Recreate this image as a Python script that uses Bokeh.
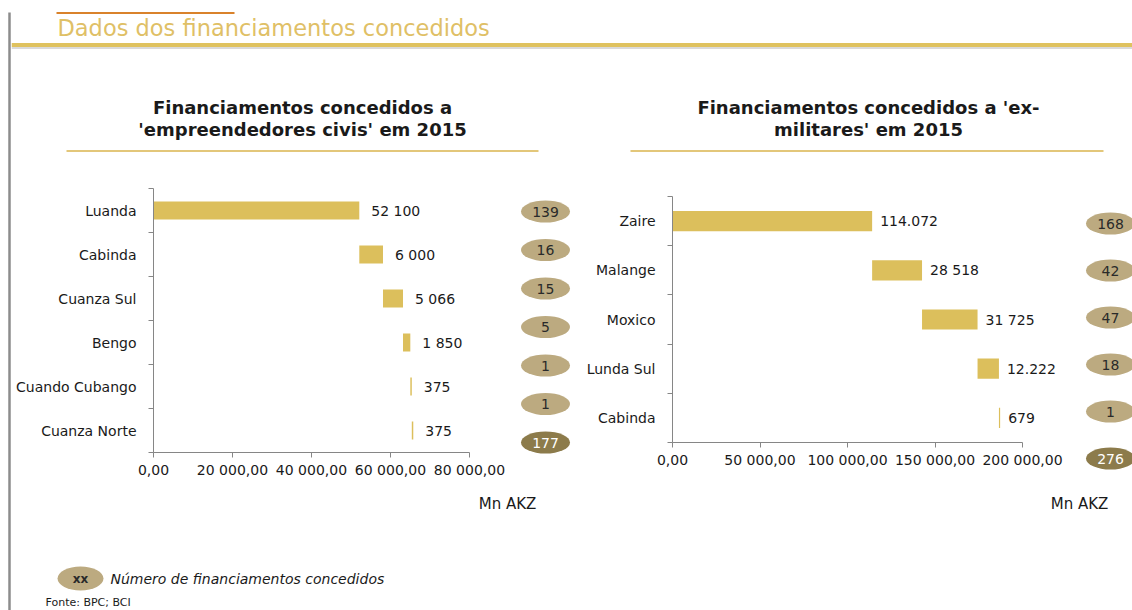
import numpy as np
from bokeh.plotting import figure
from bokeh.models import Range1d, FixedTicker
from bokeh.layouts import row, column
from bokeh.core.properties import value
from bokeh.embed import file_html
from bokeh.resources import INLINE

# ---------------- data ----------------
page_title = "Dados dos financiamentos concedidos"
civ_title = ["Financiamentos concedidos a", "'empreendedores civis' em 2015"]
civ_regions = ["Luanda", "Cabinda", "Cuanza Sul", "Bengo", "Cuando Cubango", "Cuanza Norte"]
civ_values = [52100, 6000, 5066, 1850, 375, 375]
civ_labels = ["52 100", "6 000", "5 066", "1 850", "375", "375"]
civ_counts = [139, 16, 15, 5, 1, 1]
civ_total = 177
civ_ticks = [0, 20000, 40000, 60000, 80000]

mil_title = ["Financiamentos concedidos a 'ex-", "militares' em 2015"]
mil_regions = ["Zaire", "Malange", "Moxico", "Lunda Sul", "Cabinda"]
mil_values = [114072, 28518, 31725, 12222, 679]
mil_labels = ["114.072", "28 518", "31 725", "12.222", "679"]
mil_counts = [168, 42, 47, 18, 1]
mil_total = 276
mil_ticks = [0, 50000, 100000, 150000, 200000]

unit_label = "Mn AKZ"
legend_badge = "xx"
legend_text = "Número de financiamentos concedidos"
source_text = "Fonte: BPC; BCI"

# ---------------- style ----------------
FONT = "DejaVu Sans"
TXT = "#1a1a1a"
GOLD_BAR = "#DCBF5C"
GOLD_TITLE = "#DFC066"
GOLD_LINE = "#DFC25F"
GOLD_UNDER = "#E3C77A"
ORANGE = "#D9822B"
AXIS = "#868686"
BADGE_LIGHT = "#BCAA80"
BADGE_DARK = "#8C7B4B"


def tick_text(v):
    return f"{v:,.2f}".replace(",", " ").replace(".", ",")


def blank(width, height, x0, x1, y_top, y_bottom):
    p = figure(width=width, height=height, x_range=Range1d(x0, x1),
               y_range=Range1d(y_bottom, y_top), output_backend="svg",
               toolbar_location=None, x_axis_type=None, y_axis_type=None,
               min_border=0, outline_line_color=None)
    p.grid.visible = False
    return p


def chart(cats, vals, labels, ticks, width, height, bl, br, bt, bb, axis_px, label_dx):
    n = len(cats)
    ys = [n - i - 0.5 for i in range(n)]
    v = np.array(vals, dtype=float)
    ends = np.cumsum(v)
    starts = ends - v
    frame_w = width - bl - br
    x_end = ticks[-1] * frame_w / axis_px
    p = figure(width=width, height=height, x_range=Range1d(ticks[0], x_end),
               y_range=Range1d(0, n), output_backend="svg", toolbar_location=None,
               min_border_left=bl, min_border_right=br, min_border_top=bt,
               min_border_bottom=bb, outline_line_color=None)
    p.grid.visible = False
    p.hbar(y=ys, left=starts, right=ends, height=0.41, fill_color=GOLD_BAR, line_color=None)
    p.text(x=ends, y=ys, text=labels, x_offset=label_dx, text_align="left",
           text_baseline="middle", text_font=value(FONT), text_font_size="14px",
           text_color=TXT)
    xa = p.xaxis[0]
    xa.ticker = FixedTicker(ticks=ticks)
    xa.major_label_overrides = {t: tick_text(t) for t in ticks}
    xa.bounds = (ticks[0], ticks[-1])
    xa.axis_line_color = AXIS
    xa.major_tick_line_color = AXIS
    xa.major_tick_out = 5
    xa.major_tick_in = 0
    xa.minor_tick_line_color = None
    xa.major_label_standoff = 4
    xa.major_label_text_font = FONT
    xa.major_label_text_font_size = "14px"
    xa.major_label_text_color = TXT
    ya = p.yaxis[0]
    ya.ticker = FixedTicker(ticks=ys, minor_ticks=list(range(n + 1)))
    ya.major_label_overrides = {y: c for y, c in zip(ys, cats)}
    ya.axis_line_color = AXIS
    ya.major_tick_line_color = None
    ya.major_tick_out = 0
    ya.major_tick_in = 0
    ya.minor_tick_line_color = AXIS
    ya.minor_tick_out = 5
    ya.minor_tick_in = 0
    ya.major_label_standoff = 12
    ya.major_label_text_font = FONT
    ya.major_label_text_font_size = "14px"
    ya.major_label_text_color = TXT
    return p


def badges(counts, total, width, height, fig_top, first_y, spacing, cx):
    vals = list(counts) + [total]
    k = list(range(len(vals)))
    k_top = (fig_top - first_y) / spacing
    k_bottom = (fig_top + height - first_y) / spacing
    p = blank(width, height, 0, width, k_top, k_bottom)
    fills = [BADGE_LIGHT] * len(counts) + [BADGE_DARK]
    tcol = ["#2a2a2a"] * len(counts) + ["#ffffff"]
    xs = [cx] * len(vals)
    p.ellipse(x=xs, y=k, width=49, height=22, width_units="screen",
              height_units="screen", fill_color=fills, line_color=None)
    p.text(x=xs, y=k, text=[str(c) for c in vals], text_align="center",
           text_baseline="middle", text_font=value(FONT), text_font_size="14px",
           text_color=tcol)
    return p


# ---------------- header (page coords) ----------------
X0 = 11
W = 1132 - X0
hdr = blank(W, 160, X0, 1132, 0, 160)
hdr.segment(x0=[56], y0=[12.5], x1=[234], y1=[12.5], line_color=ORANGE, line_width=2)
hdr.text(x=[57], y=[27], text=[page_title], text_baseline="middle",
         text_font=value(FONT), text_font_size="22.5px", text_color=GOLD_TITLE)
hdr.segment(x0=[X0], y0=[47.5], x1=[1132], y1=[47.5], line_color="#DADADA", line_width=2)
hdr.segment(x0=[X0], y0=[44.5], x1=[1132], y1=[44.5], line_color=GOLD_LINE, line_width=4)
hdr.text(x=[302, 302], y=[107, 129], text=civ_title, text_align="center",
         text_baseline="middle", text_font=value(FONT), text_font_size="18px",
         text_font_style="bold", text_color=TXT)
hdr.text(x=[868, 868], y=[107, 129], text=mil_title, text_align="center",
         text_baseline="middle", text_font=value(FONT), text_font_size="18px",
         text_font_style="bold", text_color=TXT)
hdr.segment(x0=[66, 630], y0=[150.5, 150.5], x1=[538, 1103], y1=[150.5, 150.5],
            line_color=GOLD_UNDER, line_width=2)

# ---------------- charts ----------------
ROW_TOP = 160
ROW_H = 320
c1 = chart(civ_regions, civ_values, civ_labels, civ_ticks, 504, ROW_H,
           142, 46, 28, 28, 316, 12)
b1 = badges(civ_counts, civ_total, 60, ROW_H, ROW_TOP, 211, 38.5, 30)
c2 = chart(mil_regions, mil_values, mil_labels, mil_ticks, 505, ROW_H,
           97, 0, 36, 38, 350, 8)
b2 = badges(mil_counts, mil_total, 52, ROW_H, ROW_TOP, 223, 47, 30)

# ---------------- footer (page coords) ----------------
ftr = blank(W, 130, X0, 1132, 480, 610)
ftr.text(x=[507, 1079], y=[503, 503], text=[unit_label, unit_label], text_align="center",
         text_baseline="middle", text_font=value(FONT), text_font_size="15px",
         text_color=TXT)
ftr.ellipse(x=[80], y=[578], width=46, height=24, width_units="screen",
            height_units="screen", fill_color=BADGE_LIGHT, line_color=None)
ftr.text(x=[80], y=[578], text=[legend_badge], text_align="center",
         text_baseline="middle", text_font=value(FONT), text_font_size="12px",
         text_font_style="bold", text_color="#2a2a2a")
ftr.text(x=[110], y=[578], text=[legend_text], text_baseline="middle",
         text_font=value(FONT), text_font_size="14px", text_font_style="italic",
         text_color=TXT)
ftr.text(x=[45], y=[608], text=[source_text], text_baseline="bottom",
         text_font=value(FONT), text_font_size="11px", text_color=TXT)

# ---------------- left rule ----------------
vline = blank(X0, 610, 0, X0, 0, 610)
vline.segment(x0=[9], y0=[12], x1=[9], y1=[610], line_color="#8C8C8C", line_width=2.5)

middle = row(column(c1), column(b1), column(c2), column(b2))
layout = row(vline, column(hdr, middle, ftr))
open("out.html", "w").write(file_html(layout, INLINE))
